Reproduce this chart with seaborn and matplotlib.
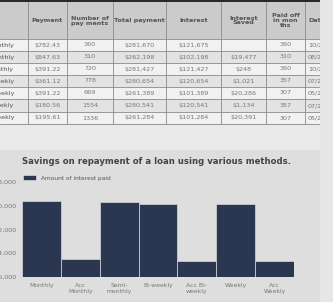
import matplotlib
matplotlib.use("Agg")
import matplotlib.pyplot as plt
import seaborn as sns
import pandas as pd
from matplotlib.patches import Rectangle

# ---- data ----
methods = ["Monthly", "Acc Monthly", "Semi-monthly", "Bi-weekly", "Acc Bi-weekly", "Weekly", "Acc Weekly"]
tick_labels = ["Monthly", "Acc\nMonthly", "Semi-\nmonthly", "Bi-weekly", "Acc Bi-\nweekly", "Weekly", "Acc\nWeekly"]
interest_paid = [121675, 102198, 121427, 120654, 101389, 120541, 101284]
payment = ["$782.43", "$847.63", "$391.22", "$361.12", "$391.22", "$180.56", "$195.61"]
num_payments = ["360", "310", "720", "778", "669", "1554", "1336"]
total_payment = ["$281,670", "$262,198", "$281,427", "$280,654", "$261,389", "$280,541", "$261,284"]
interest_col = ["$121,675", "$102,198", "$121,427", "$120,654", "$101,389", "$120,541", "$101,284"]
interest_saved = ["", "$19,477", "$248", "$1,021", "$20,286", "$1,134", "$20,391"]
paid_off = ["360", "310", "360", "357", "307", "357", "307"]
dates = ["10/2040", "08/2036", "10/2040", "07/2040", "05/2036", "07/2040", "05/2036"]
headers = ["", "Payment", "Number of\npay ments", "Total payment", "Interest", "Interest\nSaved", "Paid off\nin mon\nths", "Date"]
yticks = [96000, 104000, 112000, 120000, 128000]

W, H = 333, 302
fig = plt.figure(figsize=(W / 100, H / 100), dpi=100)
fig.patch.set_facecolor("#dedede")

# ---- table (drawn in a pixel-space overlay axes) ----
tab = fig.add_axes([0, 0, 1, 1])
tab.set_xlim(0, W)
tab.set_ylim(H, 0)
tab.axis("off")
tab.add_patch(Rectangle((0, 0), W, 150, facecolor="#e9e9e9", edgecolor="none"))
col_edges = [-45, 28, 67, 113, 166, 221, 266, 305, 350]
row_edges = [2, 39, 51, 63, 75, 87, 99, 112, 124]
tab.add_patch(Rectangle((0, 0), W, 2.5, facecolor="#2a2a2a", edgecolor="none"))
tab.add_patch(Rectangle((0, row_edges[0]), W, row_edges[1] - row_edges[0], facecolor="#cbcbcb", edgecolor="none"))
columns = [methods, payment, num_payments, total_payment, interest_col, interest_saved, paid_off, dates]
for r in range(7):
    y0, y1 = row_edges[r + 1], row_edges[r + 2]
    fc = "#f1f1f1" if r % 2 == 0 else "#e3e3e3"
    tab.add_patch(Rectangle((0, y0), W, y1 - y0, facecolor=fc, edgecolor="none"))
    for c, col in enumerate(columns):
        x0, x1 = col_edges[c], col_edges[c + 1]
        if c == 0:
            tab.text(14, (y0 + y1) / 2, col[r], ha="right", va="center", fontsize=4.6, color="#555555")
        elif c == 7:
            tab.text(x0 + 3, (y0 + y1) / 2, col[r], ha="left", va="center", fontsize=4.6, color="#777777")
        else:
            tab.text((x0 + x1) / 2, (y0 + y1) / 2, col[r], ha="center", va="center", fontsize=4.6, color="#777777")
for c, h in enumerate(headers):
    x0, x1 = col_edges[c], col_edges[c + 1]
    xx = (x0 + x1) / 2 if c < 7 else x0 + 3
    tab.text(xx, (row_edges[0] + row_edges[1]) / 2, h, ha="center" if c < 7 else "left", va="center",
             fontsize=4.6, color="#555555", fontweight="bold", linespacing=1.0)
for x in col_edges[1:-1]:
    tab.plot([x, x], [row_edges[0], row_edges[-1]], color="#8a8a8a", lw=0.6)
for y in row_edges[1:]:
    tab.plot([0, W], [y, y], color="#8a8a8a", lw=0.6)

# ---- chart ----
ax = fig.add_axes([22 / W, 1 - 277 / H, 272 / W, (277 - 182) / H])
ax.set_facecolor("none")
df = pd.DataFrame({"method": methods, "interest": interest_paid})
sns.barplot(data=df, x="method", y="interest", color="#2b3750", width=1.0, saturation=1,
            edgecolor="#d8d8d8", linewidth=0.5, ax=ax, label="Amount of interest paid")
ax.set_ylim(96000, 128000)
ax.set_yticks(yticks)
ax.set_yticklabels([f"{v:,}" for v in yticks], fontsize=4.6, color="#777777")
ax.set_xticks(range(len(methods)))
ax.set_xticklabels(tick_labels, fontsize=4.4, color="#777777", linespacing=1.3)
ax.tick_params(length=0, pad=4)
ax.set_xlim(-0.5, 6.5)
ax.set_xlabel("")
ax.set_ylabel("")
for s in ax.spines.values():
    s.set_visible(False)
leg = ax.legend(loc="lower left", bbox_to_anchor=(0.0, 1.0), frameon=False, fontsize=4.2,
                handlelength=2.2, handleheight=1.0, borderaxespad=0.2, borderpad=0, labelcolor="#555555")
fig.text(22 / W, 1 - 162 / H, "Savings on repayment of a loan using various methods.", fontsize=6.1,
         fontweight="bold", color="#444444", va="center", ha="left")

# right screenshot border strip
tab2 = fig.add_axes([320 / W, 0, 13 / W, 1])
tab2.axis("off")
tab2.add_patch(Rectangle((0, 0), 1, 1, facecolor="#e6e6e6", edgecolor="none", transform=tab2.transAxes))

fig.savefig("out.png", dpi=100)
